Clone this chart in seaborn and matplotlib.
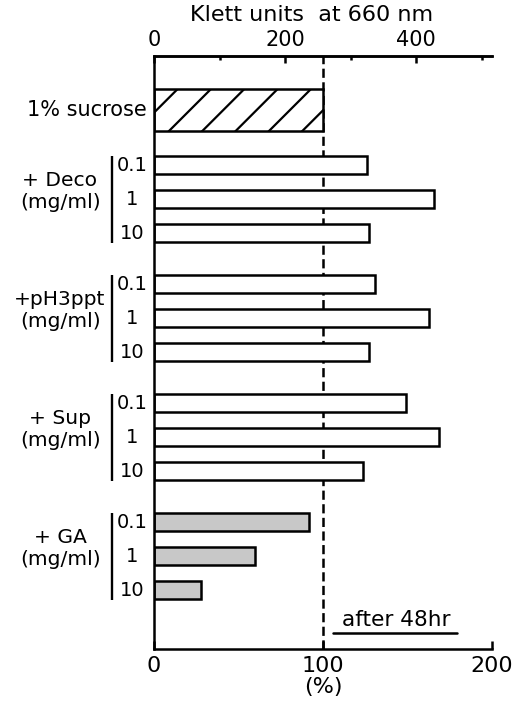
import numpy as np
import pandas as pd
import matplotlib
matplotlib.use("Agg")
import matplotlib.pyplot as plt
import seaborn as sns
from matplotlib.transforms import blended_transform_factory

# ---------------- data ----------------
control_label = "1% sucrose"
control_value = 100.0
treatments = ["+ Deco", "+pH3ppt", "+ Sup", "+ GA"]
unit_label = "(mg/ml)"
doses = ["0.1", "1", "10"]
deco = [126.0, 165.5, 127.0]
ph3ppt = [130.5, 162.5, 127.5]
sup = [149.0, 168.5, 123.5]
ga = [92.0, 60.0, 28.0]
bottom_ticks = [0, 100, 200]
klett_per_percent = 2.58
top_major = [0, 200, 400]
top_minor = [100, 300, 500]
top_title = "Klett units  at 660 nm"
bottom_title = "(%)"
note = "after 48hr"

# ---------------- style ----------------
sns.set_theme(style="ticks")
plt.rcParams.update({
    "font.family": ["DejaVu Sans"],
    "text.color": "black",
    "axes.labelcolor": "black",
    "xtick.color": "black",
    "ytick.color": "black",
    "axes.edgecolor": "black",
    "hatch.linewidth": 0.8,
    "lines.scale_dashes": False,
})

DPI = 200
W, H = 515, 701
fig = plt.figure(figsize=(W / DPI, H / DPI), dpi=DPI)
fig.patch.set_facecolor("white")
ax = fig.add_axes([154 / W, 1 - 649 / H, (492 - 154) / W, (649 - 56) / H])

# ---------------- layout of rows (computed, not data) ----------------
first_offset = 1.62
group_stride = len(doses) - 1 + 1.5
rows = []
for g, (name, vals) in enumerate(zip(treatments, [deco, ph3ppt, sup, ga])):
    for i, (d, v) in enumerate(zip(doses, vals)):
        rows.append({"treatment": name, "dose": d, "value": v,
                     "pos": first_offset + g * group_stride + i,
                     "kind": "GA" if name == "+ GA" else "other"})
df = pd.DataFrame(rows)
ctrl = pd.DataFrame({"value": [control_value], "pos": [0.0]})

common = dict(orient="h", native_scale=True, errorbar=None, saturation=1,
              edgecolor="black", linewidth=0.9, ax=ax)
sns.barplot(data=ctrl, x="value", y="pos", width=1.24, color="white",
            hatch="//", **common)
sns.barplot(data=df[df.kind == "other"], x="value", y="pos", width=0.52,
            color="white", **common)
sns.barplot(data=df[df.kind == "GA"], x="value", y="pos", width=0.52,
            color="#c8c8c8", **common)

ax.axvline(control_value, color="black", lw=0.9, dashes=(3.3, 1.6), zorder=0.5)

ax.set_xlim(0, 200)
ax.set_ylim(15.85, -1.59)
ax.set_yticks([])
ax.set_ylabel("")
ax.set_xticks(bottom_ticks)
ax.xaxis.set_ticks_position("bottom")
ax.tick_params(axis="x", direction="in", length=2.9, width=0.9, pad=2.5,
               labelsize=8)
ax.set_xlabel(bottom_title, fontsize=8, labelpad=0.5)
ax.spines["right"].set_visible(False)
for s in ["left", "bottom", "top"]:
    ax.spines[s].set_linewidth(0.9)

sec = ax.secondary_xaxis("top", functions=(lambda p: p * klett_per_percent,
                                           lambda k: k / klett_per_percent))
sec.set_xticks(top_major)
sec.set_xticks(top_minor, minor=True)
sec.tick_params(which="major", direction="in", length=2.6, width=0.9, pad=2.2,
                labelsize=7.5, top=True, labeltop=True)
sec.tick_params(which="minor", direction="in", length=1.5, width=0.9, top=True)
sec.spines["top"].set_linewidth(0.9)
fig.text(312 / W, 1 - 15 / H, top_title, ha="center", va="center", fontsize=8)

# ---------------- left-hand labels ----------------
trans = blended_transform_factory(fig.transFigure, ax.transData)
fx = lambda x: x / W
ax.text(fx(147), 0.0, control_label, transform=trans, ha="right",
        va="center", fontsize=7.5)
for name, grp in df.groupby("treatment", sort=False):
    p = grp["pos"].to_numpy()
    ax.plot([fx(112), fx(112)], [p[0] - 0.28, p[-1] + 0.28], transform=trans,
            color="black", lw=0.85, clip_on=False, solid_capstyle="butt")
    for d, y in zip(grp["dose"], p):
        ax.text(fx(132), y, d, transform=trans, ha="center", va="center",
                fontsize=7)
    mid = p[len(p) // 2]
    ax.text(fx(60), mid - 0.55, name, transform=trans, ha="center",
            va="center", fontsize=7.3)
    ax.text(fx(61), mid + 0.1, unit_label, transform=trans, ha="center",
            va="center", fontsize=7.3)

# ---------------- note ----------------
ax.text(143.5, 15.0, note, ha="center", va="center", fontsize=7.8)
ax.plot([106, 179], [15.37, 15.37], color="black", lw=0.9, clip_on=False)

fig.savefig("out.png", dpi=DPI, facecolor="white")
